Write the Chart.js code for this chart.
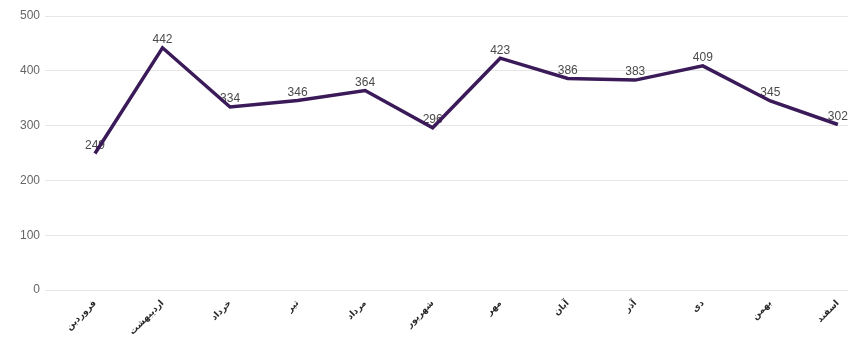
<!DOCTYPE html>
<html>
<head>
<meta charset="utf-8">
<script src="https://cdn.jsdelivr.net/npm/chart.js@4.4.1/dist/chart.umd.min.js"></script>
<style>
  html, body { margin: 0; padding: 0; background: #fff; }
  #wrap { width: 854px; height: 338px; }
</style>
</head>
<body>
<div id="wrap"><canvas id="grafico"></canvas></div>
<script>
// ماه‌ها و مقادیر
const meses = ['فروردین', 'اردیبهشت', 'خرداد', 'تیر', 'مرداد', 'شهریور', 'مهر', 'آبان', 'آذر', 'دی', 'بهمن', 'اسفند'];
const valores = [249, 442, 334, 346, 364, 296, 423, 386, 383, 409, 345, 302];
const yTicks = [0, 100, 200, 300, 400, 500];

// rótulos de valor desenhados antes da linha, para a linha passar por cima
const rotulos = {
    id: 'rotulos',
    beforeDatasetsDraw(chart) {
        const ctx = chart.ctx;
        const meta = chart.getDatasetMeta(0);
        ctx.save();
        ctx.font = '12px "Liberation Sans", Arial, sans-serif';
        ctx.fillStyle = '#4a4a4a';
        ctx.textAlign = 'center';
        ctx.textBaseline = 'bottom';
        meta.data.forEach((pt, i) => {
            ctx.fillText(String(valores[i]), pt.x, pt.y - 2);
        });
        ctx.restore();
    }
};

new Chart(document.getElementById('grafico'), {
    type: 'line',
    data: {
        datasets: [{
            data: valores.map((v, i) => ({ x: i, y: v })),
            borderColor: '#3a1a58',
            borderWidth: 3.5,
            pointRadius: 0,
            tension: 0,
            fill: false
        }]
    },
    options: {
        responsive: true,
        maintainAspectRatio: false,
        animation: false,
        layout: { padding: { top: 16, right: 6, left: 0, bottom: 0 } },
        plugins: { legend: { display: false }, tooltip: { enabled: false } },
        scales: {
            x: {
                type: 'linear',
                min: -0.74,
                max: 11.15,
                afterBuildTicks: (s) => { s.ticks = meses.map((_, i) => ({ value: i })); },
                afterFit: (s) => { s.height = 48; },
                grid: { display: false, drawTicks: false },
                border: { display: false },
                ticks: {
                    autoSkip: false,
                    minRotation: 45,
                    maxRotation: 45,
                    padding: 8,
                    color: '#2a2a2a',
                    font: { family: '"DejaVu Sans", sans-serif', size: 9, weight: 'bold' },
                    callback: (v) => meses[v]
                }
            },
            y: {
                min: 0,
                max: 500,
                afterBuildTicks: (s) => { s.ticks = yTicks.map(v => ({ value: v })); },
                afterFit: (s) => { s.width = 45; },
                grid: { color: '#e6e6e6', drawTicks: false },
                border: { display: false },
                ticks: {
                    padding: 5,
                    color: '#666',
                    font: { family: '"Liberation Sans", Arial, sans-serif', size: 12 }
                }
            }
        }
    },
    plugins: [rotulos]
});
</script>
</body>
</html>
